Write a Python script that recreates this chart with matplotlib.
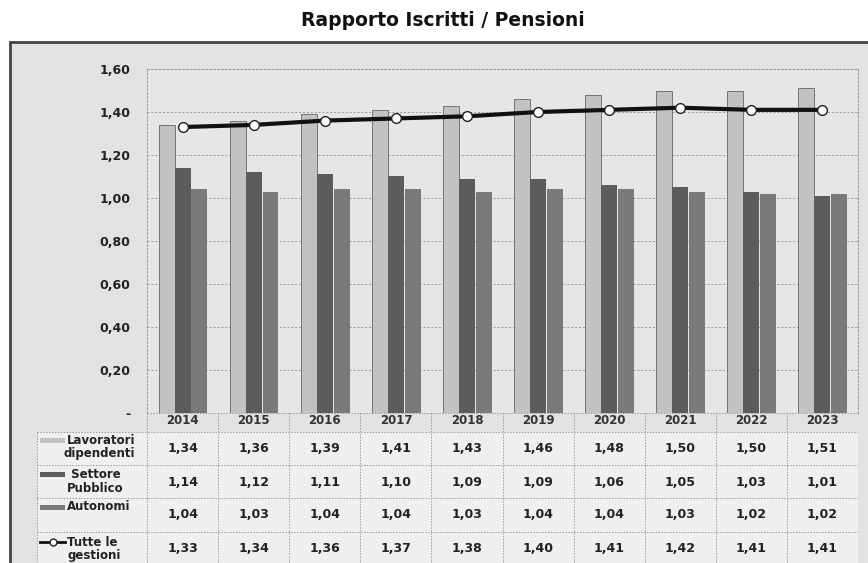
import matplotlib.pyplot as plt
import matplotlib.patches as patches
import numpy as np

# Data
years = ['2014', '2015', '2016', '2017', '2018', '2019', '2020', '2021', '2022', '2023']
lavoratori = [1.34, 1.36, 1.39, 1.41, 1.43, 1.46, 1.48, 1.50, 1.50, 1.51]
settore = [1.14, 1.12, 1.11, 1.10, 1.09, 1.09, 1.06, 1.05, 1.03, 1.01]
autonomi = [1.04, 1.03, 1.04, 1.04, 1.03, 1.04, 1.04, 1.03, 1.02, 1.02]
tutte = [1.33, 1.34, 1.36, 1.37, 1.38, 1.40, 1.41, 1.42, 1.41, 1.41]
row_labels = [('Lavoratori', 'dipendenti'), (' Settore', 'Pubblico'), ('Autonomi', ''), ('Tutte le', 'gestioni')]
yticks = [0, 0.2, 0.4, 0.6, 0.8, 1.0, 1.2, 1.4, 1.6]

W, H = 868, 563
fig = plt.figure(figsize=(W / 100, H / 100), dpi=100)


def box(x0, y0, x1, y1):
  # pixel box (y measured from top) -> figure fraction rect
  return [x0 / W, 1 - y1 / H, (x1 - x0) / W, (y1 - y0) / H]


# Outer frame
frame = patches.Rectangle((10 / W, -0.02), (872 - 10) / W, 1 - 42 / H + 0.02,
                          transform=fig.transFigure, facecolor='#e2e2e2',
                          edgecolor='#444444', linewidth=2, zorder=-5)
fig.patches.append(frame)

fig.text(443 / W, 1 - 21 / H, 'Rapporto Iscritti / Pensioni', ha='center', va='center',
         fontsize=13.5, fontweight='bold', color='#111111')

# Main chart
ax = fig.add_axes(box(147, 69, 858, 413))
ax.set_facecolor('#e6e6e6')
x = np.arange(len(years))
bw = 0.225
ax.bar(x - 0.225, lavoratori, bw, color='#c2c2c2', edgecolor='#666666', linewidth=0.6, zorder=2)
ax.bar(x, settore, bw, color='#5c5c5c', zorder=3)
ax.bar(x + 0.237, autonomi, bw, color='#7a7a7a', zorder=3)
ax.plot(x, tutte, color='#111111', lw=3, marker='o', ms=7, mfc='white', mec='#222222',
        mew=1, zorder=5)

ax.set_xlim(-0.5, len(years) - 0.5)
ax.set_ylim(0, 1.6)
ax.set_yticks(yticks)
ax.set_yticklabels(['-' if v == 0 else f'{v:.2f}'.replace('.', ',') for v in yticks],
                   fontsize=9, fontweight='bold', color='#222222')
ax.tick_params(axis='y', length=0, pad=12)
ax.set_xticks([])
ax.yaxis.grid(True, linestyle=(0, (2, 2)), color='#999999', linewidth=0.7, zorder=1)
ax.set_axisbelow(True)
for s in ['left', 'top', 'right']:
  ax.spines[s].set_linestyle((0, (2, 2)))
  ax.spines[s].set_color('#999999')
  ax.spines[s].set_linewidth(0.7)
ax.spines['bottom'].set_visible(False)

# Data table
tab = fig.add_axes(box(37, 413, 858, 563))
tab.set_xlim(-0.5 - 110 / 71, len(years) - 0.5)
tab.set_ylim(563, 413)
tab.axis('off')
left = -0.5 - 110 / 71
tab.add_patch(patches.Rectangle((left, 432), len(years) - 0.5 - left, 140,
                                facecolor='#efefef', edgecolor='none', zorder=0))
dot = dict(linestyle=(0, (1.5, 1.5)), color='#9a9a9a', linewidth=0.7, zorder=1)
tab.vlines(np.arange(len(years) + 1) - 0.5, 413, 563, **dot)
tab.vlines([left], 432, 563, **dot)
tab.hlines([413], -0.5, len(years) - 0.5, **dot)
tab.hlines([432, 465, 498, 532], left, len(years) - 0.5, **dot)

for i, yr in enumerate(years):
  tab.text(i, 421, yr, ha='center', va='center', fontsize=8.5, fontweight='bold', color='#333333')

series = [lavoratori, settore, autonomi, tutte]
row_mid = [448, 482, 515, 548]
for vals, ym in zip(series, row_mid):
  for i, v in enumerate(vals):
    tab.text(i, ym, f'{v:.2f}'.replace('.', ','), ha='center', va='center',
             fontsize=9, fontweight='bold', color='#222222')

lab_x = left + (67 - 37) / 71
sw0, sw1 = left + 3 / 71, left + 28 / 71
first_y = [440, 474, 507, 542]
sw_colors = ['#c2c2c2', '#5c5c5c', '#7a7a7a']
for k, ((l1, l2), fy) in enumerate(zip(row_labels, first_y)):
  tab.text(lab_x, fy, l1, ha='left', va='center', fontsize=8.5, fontweight='bold', color='#222222')
  if l2:
    tab.text(lab_x - (4 / 71 if k == 0 else 0), fy + 14, l2, ha='left', va='center',
             fontsize=8.5, fontweight='bold', color='#222222')
  if k < 3:
    tab.add_patch(patches.Rectangle((sw0, fy - 2.5), sw1 - sw0, 5, facecolor=sw_colors[k],
                                    edgecolor='none', zorder=2))
  else:
    tab.plot([sw0, sw1], [fy, fy], color='#111111', lw=2, zorder=2)
    tab.plot([(sw0 + sw1) / 2], [fy], marker='o', ms=5, mfc='white', mec='#222222', zorder=3)

plt.savefig('out.png', dpi=100)
plt.close()
